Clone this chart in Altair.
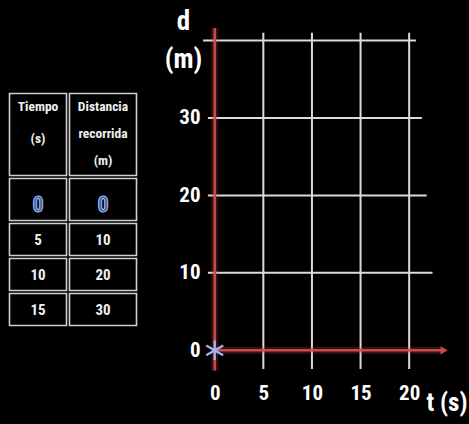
import altair as alt
import pandas as pd

# ---- values ----
tiempo_s = [0, 5, 10, 15]
distancia_m = [0, 10, 20, 30]
header_tiempo = "Tiempo\n(s)"
header_distancia = "Distancia\nrecorrida\n(m)"

t_ticks = [0, 5, 10, 15, 20]
d_ticks = [0, 10, 20, 30]

grid_t = [5, 10, 15, 20]
grid_d = [10, 20, 30, 40]
grid_d_start = [-0.7, -0.7, -0.7, -1.2]
grid_d_end = [22.4, 21.8, 21.3, 20.7]

# points already placed on the graph (first table row)
placed = 1

# ---- styling ----
FONT = "Roboto Condensed, DejaVu Sans Condensed, sans-serif"
RED = "#d04848"
GRID = "#e2d8d8"
BLUE = "#9fb6ee"

t_scale = alt.Scale(domain=[-1, 24.2], range=[205, 450], nice=False, zero=False)
d_scale = alt.Scale(domain=[-2.6, 41.6], range=[370.5, 28], nice=False, zero=False)

label_style = dict(
    labelColor="white", labelFont=FONT, labelFontSize=21, labelFontWeight="bold",
    domain=False, ticks=False, tickSize=0, grid=False,
    titleColor="white", titleFont=FONT, titleFontWeight="bold",
)
x_axis = alt.Axis(
    values=t_ticks, orient="bottom", offset=-74, labelPadding=32,
    title="t (s)", titleX=467, titleY=52, titleBaseline="middle",
    titleAlign="right", titleFontSize=25, **label_style)
y_axis = alt.Axis(
    values=d_ticks, orient="left", offset=-205, labelPadding=5,
    title=["d", "(m)"], titleAngle=0, titleX=-22, titleY=8,
    titleAlign="center", titleBaseline="top", titleLineHeight=38,
    titleFontSize=27, **label_style)


def X(field):
    return alt.X(field, scale=t_scale, axis=x_axis)


def Y(field):
    return alt.Y(field, scale=d_scale, axis=y_axis)


# ---- graph ----
grid_v_df = pd.DataFrame({"t": grid_t, "d0": -2.4, "d1": 41.0})
grid_h_df = pd.DataFrame({"d": grid_d, "t0": grid_d_start, "t1": grid_d_end})
x_axis_df = pd.DataFrame({"t0": [0], "t1": [23.4], "d": [0]})
y_axis_df = pd.DataFrame({"t": [0], "d0": [-2.6], "d1": [41.6]})
arrow_df = pd.DataFrame({"t": [23.6], "d": [0]})
points_df = pd.DataFrame({"t": tiempo_s[:placed], "d": distancia_m[:placed]})

grid_v = alt.Chart(grid_v_df).mark_rule(color=GRID, strokeWidth=2).encode(
    x=X("t:Q"), y=Y("d0:Q"), y2="d1:Q",
)
grid_h = alt.Chart(grid_h_df).mark_rule(color=GRID, strokeWidth=2).encode(
    x=X("t0:Q"), x2="t1:Q", y=Y("d:Q"),
)
x_glow = alt.Chart(x_axis_df).mark_rule(color=RED, strokeWidth=7, opacity=0.25).encode(
    x=X("t0:Q"), x2="t1:Q", y=Y("d:Q"),
)
x_line = alt.Chart(x_axis_df).mark_rule(color=RED, strokeWidth=2.5).encode(
    x=X("t0:Q"), x2="t1:Q", y=Y("d:Q"),
)
y_glow = alt.Chart(y_axis_df).mark_rule(color=RED, strokeWidth=7, opacity=0.25).encode(
    x=X("t:Q"), y=Y("d0:Q"), y2="d1:Q",
)
y_line = alt.Chart(y_axis_df).mark_rule(color=RED, strokeWidth=2.5).encode(
    x=X("t:Q"), y=Y("d0:Q"), y2="d1:Q",
)
arrow = alt.Chart(arrow_df).mark_point(
    shape="triangle-right", filled=True, color=RED, size=70, opacity=1
).encode(x=X("t:Q"), y=Y("d:Q"))

star = alt.Chart(points_df).mark_point(
    shape="M0,-1L0,1M-0.87,-0.5L0.87,0.5M-0.87,0.5L0.87,-0.5",
    filled=False, color=BLUE, strokeWidth=2.2, size=380, opacity=1,
).encode(x=X("t:Q"), y=Y("d:Q"))

graph = alt.layer(grid_v, grid_h, x_glow, y_glow, x_line, y_line, arrow, star)

# ---- table ----
col_w = [60, 70]
row_h = [85, 45, 35, 35, 35]
col_edges = [0]
for w in col_w:
    col_edges.append(col_edges[-1] + w)
row_edges = [0]
for h in row_h:
    row_edges.append(row_edges[-1] + h)
inset = 1.5

cells = []
for r in range(len(row_h)):
    for c in range(len(col_w)):
        cells.append({
            "x0": col_edges[c] + inset, "x1": col_edges[c + 1] - inset,
            "y0": row_edges[r] + inset, "y1": row_edges[r + 1] - inset,
        })
cells_df = pd.DataFrame(cells)

col_mid = [(col_edges[i] + col_edges[i + 1]) / 2 for i in range(2)]
row_mid = [(row_edges[i] + row_edges[i + 1]) / 2 for i in range(len(row_h))]

vals = []
for i, (ts, dm) in enumerate(zip(tiempo_s, distancia_m)):
    vals.append({"x": col_mid[0], "y": row_mid[i + 1], "txt": str(ts), "first": i == 0})
    vals.append({"x": col_mid[1], "y": row_mid[i + 1], "txt": str(dm), "first": i == 0})
vals_df = pd.DataFrame(vals)

tx = alt.Scale(domain=[0, col_edges[-1]], range=[8, 8 + col_edges[-1]], nice=False, zero=False)
ty = alt.Scale(domain=[0, row_edges[-1]], range=[92, 92 + row_edges[-1]], nice=False, zero=False)

table_cells = alt.Chart(cells_df).mark_rect(
    fill="black", stroke="#d0d0d0", strokeWidth=1.6
).encode(
    x=alt.X("x0:Q", scale=tx, axis=None), x2="x1:Q",
    y=alt.Y("y0:Q", scale=ty, axis=None), y2="y1:Q",
)

head_df = pd.DataFrame({
    "x": col_mid, "y": [8, 8], "txt": [header_tiempo, header_distancia],
})
head_t = alt.Chart(head_df.iloc[[0]]).mark_text(
    font=FONT, fontSize=13.5, fontWeight="bold", color="#f0f0f0",
    baseline="top", align="center", lineBreak="\n", lineHeight=32,
).encode(
    x=alt.X("x:Q", scale=tx, axis=None), y=alt.Y("y:Q", scale=ty, axis=None), text="txt:N",
)
head_d = alt.Chart(head_df.iloc[[1]]).mark_text(
    font=FONT, fontSize=13.5, fontWeight="bold", color="#f0f0f0",
    baseline="top", align="center", lineBreak="\n", lineHeight=27,
).encode(
    x=alt.X("x:Q", scale=tx, axis=None), y=alt.Y("y:Q", scale=ty, axis=None), text="txt:N",
)

vals_rest = alt.Chart(vals_df[~vals_df["first"]]).mark_text(
    font=FONT, fontSize=15, fontWeight="bold", color="#f0f0f0", baseline="middle",
).encode(
    x=alt.X("x:Q", scale=tx, axis=None), y=alt.Y("y:Q", scale=ty, axis=None), text="txt:N",
)
vals_first = alt.Chart(vals_df[vals_df["first"]]).mark_text(
    font=FONT, fontSize=22, fontWeight="bold", fill="#3c5fa8", stroke="#a8c2f2",
    strokeWidth=1, baseline="middle", dy=5,
).encode(
    x=alt.X("x:Q", scale=tx, axis=None), y=alt.Y("y:Q", scale=ty, axis=None), text="txt:N",
)

table = alt.layer(table_cells, head_t, head_d, vals_rest, vals_first)

chart = alt.layer(table, graph).resolve_scale(
    x="independent", y="independent"
).properties(
    width=469, height=424, background="black",
    autosize=alt.AutoSizeParams(type="none"), padding=0,
).configure_view(stroke=None)

chart.save("out.html", embed_options={"renderer": "svg", "actions": False})
